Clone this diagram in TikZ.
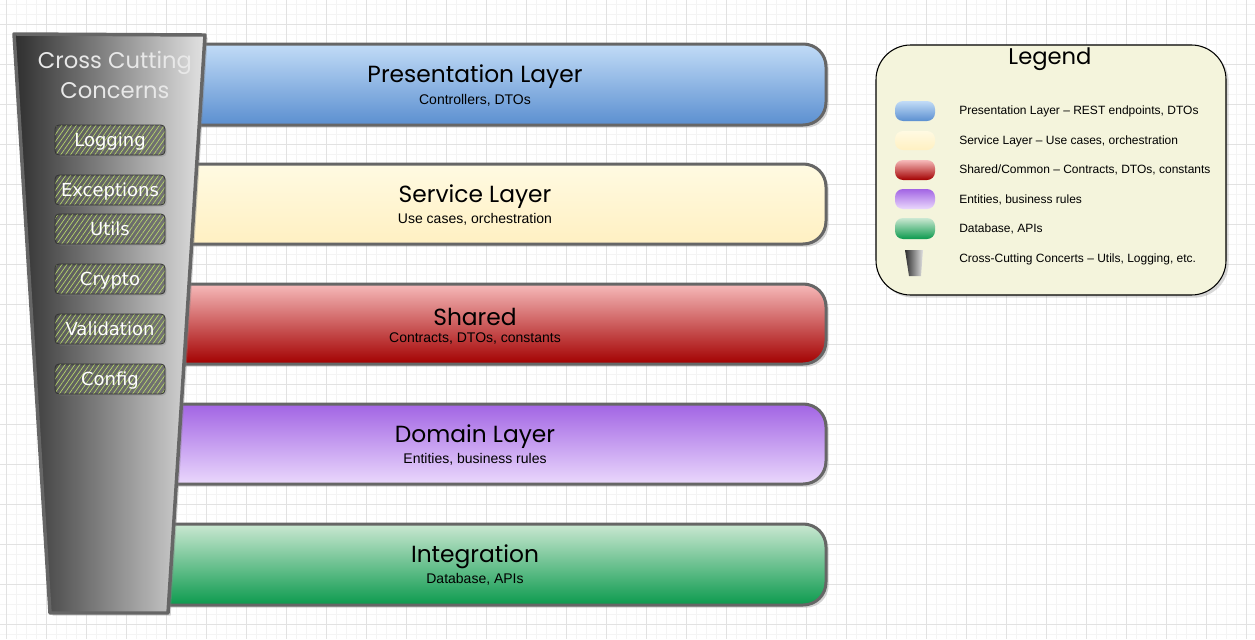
\documentclass[tikz,border=0pt]{standalone}
\usepackage{fontspec}
\setmainfont{Liberation Sans}
\newfontfamily\handfont{Poppins}
\newfontfamily\boxfont{DejaVu Sans}
\usetikzlibrary{shadows,patterns.meta}
\definecolor{bordergray}{HTML}{666666}
\definecolor{gridmin}{HTML}{F4F4F4}
\definecolor{gridmaj}{HTML}{E2E2E2}
\definecolor{blueT}{HTML}{C2DCF7}\definecolor{blueB}{HTML}{5B8FD0}
\definecolor{yelT}{HTML}{FFFAE2}\definecolor{yelB}{HTML}{FFF0C2}
\definecolor{redT}{HTML}{F6BABA}\definecolor{redB}{HTML}{A30000}
\definecolor{purT}{HTML}{A264E4}\definecolor{purB}{HTML}{EAD8FC}
\definecolor{greT}{HTML}{CBE8D2}\definecolor{greB}{HTML}{0C9A4E}
\definecolor{trapL}{HTML}{2E2E2E}\definecolor{trapR}{HTML}{E2E2E2}
\definecolor{hatch}{HTML}{B8D86C}
\definecolor{legfill}{HTML}{F4F4DC}
\definecolor{ccctext}{HTML}{E8E8E8}
\tikzset{
  layer/.style={draw=bordergray, line width=2.25pt, line join=round,
    drop shadow={shadow xshift=2pt, shadow yshift=-2pt, opacity=0.35}},
  layertitle/.style={font=\handfont\fontsize{17.5}{20}\selectfont, text=black, inner sep=0pt},
  layersub/.style={font=\fontsize{10.5}{12}\selectfont, text=black, inner sep=0pt},
  ccbox/.style={draw=black!80, line width=0.6pt, rounded corners=3pt,
    minimum width=82.5pt, minimum height=22.5pt, inner sep=0pt,
    text height=9.5pt, text depth=0pt,
    preaction={fill=black!70, fill opacity=0.7},
    pattern={Lines[angle=55,distance=3pt,line width=0.5pt]}, pattern color=hatch,
    text=white, font=\boxfont\fontsize{13.5}{15}\selectfont,
    drop shadow={shadow xshift=1.2pt, shadow yshift=-1.2pt, opacity=0.3}},
  legtext/.style={anchor=west, font=\fontsize{9}{11}\selectfont, inner sep=0pt},
  blob/.style={rounded corners=6pt, line width=0pt},
}
\begin{document}
\begin{tikzpicture}[x=0.75pt,y=-0.75pt]
\useasboundingbox (0,0) rectangle (1255,639);
\fill[white] (0,0) rectangle (1255,639);
% grid
\foreach \x in {-3.3,6.7,...,1255} \draw[gridmin, line width=0.6pt] (\x,0) -- (\x,639);
\foreach \y in {4.3,14.3,...,639} \draw[gridmin, line width=0.6pt] (0,\y) -- (1255,\y);
\foreach \x in {6.7,46.7,...,1255} \draw[gridmaj, line width=0.6pt] (\x,0) -- (\x,639);
\foreach \y in {24.3,64.3,...,639} \draw[gridmaj, line width=0.6pt] (0,\y) -- (1255,\y);

% layers
\foreach \t/\b/\ct/\cb in {44/125/blueT/blueB, 164/244/yelT/yelB, 284/364/redT/redB, 404/484/purT/purB, 524/605/greT/greB}{
  \path[layer, top color=\ct, bottom color=\cb]
    (150,\t) -- (803,\t) .. controls (816,\t) and (826,\t+10) .. (826,\t+23)
    -- (826,\b-23) .. controls (826,\b-10) and (816,\b) .. (803,\b) -- (150,\b) -- cycle;
}
\node[layertitle] (pres) at (475,77) {Presentation Layer};
\node[layersub] (pressub) at (475,100) {Controllers, DTOs};
\node[layertitle] (serv) at (475,197) {Service Layer};
\node[layersub] (servsub) at (475,219) {Use cases, orchestration};
\node[layertitle] (shar) at (475,317) {Shared};
\node[layersub] (sharsub) at (475,339) {Contracts, DTOs, constants};
\node[layertitle] (dom) at (475,437) {Domain Layer};
\node[layersub] (domsub) at (475,459) {Entities, business rules};
\node[layertitle] (integ) at (475,557) {Integration};
\node[layersub] (integsub) at (475,579) {Database, APIs};

% cross-cutting trapezoid
\path[draw=bordergray, line width=2.6pt, line join=round, left color=trapL, right color=trapR,
  drop shadow={shadow xshift=2pt, shadow yshift=-2pt, opacity=0.35}]
  (14,34) -- (205,35) -- (168,613) -- (50,613) -- cycle;
\node[font=\handfont\fontsize{17}{22}\selectfont, text=ccctext, align=center, inner sep=0pt] (ccc) at (115,75) {Cross Cutting\\Concerns};

\node[ccbox] (log) at (110,140) {Logging};
\node[ccbox] (exc) at (110,190) {Exceptions};
\node[ccbox] (utl) at (110,229) {Utils};
\node[ccbox] (cry) at (110,279) {Crypto};
\node[ccbox] (val) at (110,329) {Validation};
\node[ccbox] (cfg) at (110,379) {Config};

% legend
\path[draw=black, line width=0.8pt, fill=legfill, rounded corners=26pt,
  drop shadow={shadow xshift=2pt, shadow yshift=-2pt, opacity=0.3}]
  (876,45) rectangle (1226,295);
\node[font=\handfont\fontsize{17}{20}\selectfont, inner sep=0pt] (legt) at (1050,59) {Legend};

\path[blob, top color=blueT, bottom color=blueB] (895,101) rectangle (935,121);
\path[blob, top color=yelT, bottom color=yelB] (895,131) rectangle (935,150);
\path[blob, top color=redT, bottom color=redB] (895,160) rectangle (935,180);
\path[blob, top color=purT, bottom color=purB] (895,189) rectangle (935,209);
\path[blob, top color=greT, bottom color=greB] (895,218) rectangle (935,239);
\path[left color=trapL, right color=trapR] (905,250) -- (923,250) -- (921,276) -- (909,276) -- cycle;

\node[legtext] (l1) at (959,111) {Presentation Layer -- REST endpoints, DTOs};
\node[legtext] (l2) at (959,141) {Service Layer -- Use cases, orchestration};
\node[legtext] (l3) at (959,170) {Shared/Common -- Contracts, DTOs, constants};
\node[legtext] (l4) at (959,200) {Entities, business rules};
\node[legtext] (l5) at (959,229) {Database, APIs};
\node[legtext] (l6) at (959,259) {Cross-Cutting Concerts -- Utils, Logging, etc.};
\end{tikzpicture}
\end{document}
